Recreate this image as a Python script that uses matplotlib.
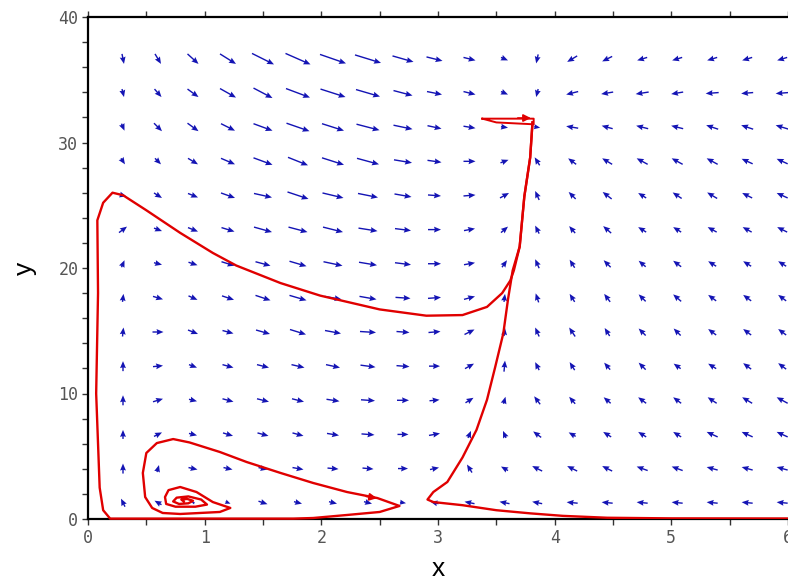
import numpy as np
import matplotlib
matplotlib.use("Agg")
import matplotlib.pyplot as plt

# grid of direction-field arrows
grid_x = [0.3, 0.6, 0.9, 1.2, 1.5, 1.8, 2.1, 2.4, 2.7, 2.97, 3.27, 3.57, 3.85, 4.15,
          4.45, 4.75, 5.05, 5.35, 5.65, 5.95]
grid_y = [36.66, 33.94, 31.22, 28.5, 25.78, 23.06, 20.34, 17.62, 14.9, 12.18,
          9.46, 6.74, 4.02, 1.3]

# arrow components in pixels (right / up), one row per grid_y
arrow_u = [
  [2, 6, 11, 16, 22, 25, 26, 26, 21, 16, 12, 7, -2, -10, -10, -10, -10, -10, -10, -10],
  [2, 7, 11, 16, 19, 24, 25, 24, 19, 15, 12, 7, -2, -12, -12, -13, -12, -13, -12, -13],
  [3, 8, 11, 14, 19, 23, 22, 23, 19, 14, 12, 7, 6, -12, -11, -12, -12, -12, -12, -13],
  [4, 6, 10, 14, 19, 20, 22, 22, 18, 14, 12, 8, -5, -8, -10, -11, -11, -11, -11, -11],
  [7, 8, 10, 14, 18, 21, 21, 20, 17, 13, 12, 9, -4, -7, -9, -8, -9, -10, -10, -11],
  [8, 8, 10, 13, 18, 19, 20, 19, 16, 13, 11, 7, -4, -6, -8, -8, -8, -9, -9, -10],
  [3, 8, 9, 13, 15, 17, 19, 18, 16, 13, 11, 5, -4, -5, -7, -7, -8, -8, -8, -8],
  [1, 10, 9, 12, 15, 17, 17, 17, 15, 13, 11, 1, -3, -5, -6, -7, -8, -8, -8, -8],
  [1, 11, 10, 11, 14, 16, 16, 16, 13, 12, 10, 1, -4, -6, -5, -7, -7, -8, -8, -8],
  [0, 10, 8, 11, 12, 13, 14, 15, 13, 11, 9, 1, -4, -5, -6, -7, -7, -8, -8, -8],
  [0, 10, 8, 11, 12, 12, 13, 14, 12, 10, 8, 2, -6, -6, -7, -8, -8, -9, -10, -11],
  [0, 8, 8, 10, 11, 11, 12, 13, 11, 11, 3, -3, -8, -7, -8, -8, -8, -11, -11, -11],
  [0, 2, 9, 9, 9, 11, 11, 11, 10, 9, -5, -7, -10, -10, -10, -11, -11, -11, -11, -11],
  [-4, -7, -3, 5, 9, 8, 8, 8, 6, -8, -10, -10, -10, -11, -11, -11, -11, -11, -11, -11],
]
arrow_v = [
  [-10, -10, -10, -10, -11, -11, -9, -8, -6, -4, -3, -3, -9, -6, -5, -3, -3, -3, -3, -3],
  [-8, -8, -8, -9, -10, -9, -8, -7, -5, -3, -3, -3, -8, -3, -2, -2, -2, -1, -1, -1],
  [-7, -8, -8, -7, -7, -8, -7, -6, -4, -3, -2, -1, -1, 2, 3, 3, 3, 4, 4, 4],
  [-6, -6, -6, -6, -7, -8, -7, -6, -3, -2, 0, 3, 8, 6, 6, 6, 6, 6, 5, 5],
  [-2, -5, -4, -5, -4, -7, -5, -4, -3, -1, 1, 5, 9, 7, 7, 5, 6, 6, 5, 5],
  [6, -3, -4, -4, -5, -5, -5, -3, -2, 0, 2, 6, 8, 7, 7, 5, 5, 5, 5, 5],
  [7, -2, -3, -4, -4, -5, -4, -3, -2, 0, 2, 7, 9, 8, 7, 6, 6, 5, 5, 5],
  [8, -3, -4, -4, -5, -5, -3, -3, -1, 1, 3, 8, 9, 8, 8, 7, 7, 6, 6, 6],
  [9, 0, -4, -3, -4, -5, -3, -1, -1, 1, 5, 8, 9, 9, 8, 7, 7, 6, 6, 6],
  [10, 1, -3, -3, -3, -3, -3, -2, -1, 0, 5, 11, 8, 8, 7, 7, 5, 5, 6, 6],
  [10, 3, -2, -3, -3, -3, -2, -1, 0, 1, 5, 7, 8, 7, 6, 6, 6, 6, 6, 6],
  [9, 4, -2, -3, -3, -3, -2, -1, 0, 2, 7, 7, 6, 4, 5, 5, 5, 5, 5, 5],
  [10, 7, -2, -2, -2, -2, -1, -1, 0, 2, 8, 4, 5, 5, 5, 4, 4, 3, 3, 3],
  [8, 4, 1, -2, -3, -2, -2, -2, -1, 2, 2, 2, 2, 1, 1, 1, 1, 1, 1, 1],
]

# trajectory spiralling out of the focus and ending at the top node
traj1_x = [0.82, 0.80, 0.85, 0.90, 0.86, 0.78, 0.73, 0.76, 0.86, 0.97, 1.02, 0.92, 0.75, 0.67,
           0.66, 0.69, 0.79, 0.93, 1.07, 1.22, 1.13, 0.96, 0.79, 0.64, 0.55, 0.49, 0.47, 0.50,
           0.59, 0.73, 0.87, 1.13, 1.36, 1.65, 1.93, 2.22, 2.48, 2.67, 2.50, 2.22, 1.93, 1.76,
           0.19, 0.13, 0.10, 0.07, 0.086, 0.08, 0.13, 0.21, 0.30, 0.50, 0.79, 1.07, 1.27,
           1.65, 1.99, 2.50, 2.90, 3.21, 3.42, 3.55, 3.62, 3.65, 3.70, 3.74, 3.79, 3.81]
traj1_y = [1.40, 1.55, 1.60, 1.45, 1.25, 1.20, 1.40, 1.70, 1.80, 1.55, 1.15, 0.98, 0.98, 1.20,
           1.75, 2.30, 2.55, 2.15, 1.35, 0.88, 0.56, 0.48, 0.40, 0.48, 0.88, 1.75, 3.67, 5.26,
           6.05, 6.37, 6.10, 5.34, 4.54, 3.67, 2.87, 2.15, 1.67, 1.04, 0.56, 0.32, 0.08, 0.03,
           0.03, 0.70, 2.50, 10.0, 18.0, 23.8, 25.2, 26.0, 25.8, 24.6, 22.8, 21.2, 20.2,
           18.8, 17.8, 16.7, 16.2, 16.25, 16.9, 18.0, 19.0, 19.8, 21.7, 25.7, 28.8, 31.6]

# trajectory coming in from the right along the x axis
traj2_x = [6.0, 5.0, 4.45, 4.07, 3.79, 3.50, 3.21, 2.96, 2.91, 2.96, 3.08, 3.21, 3.33, 3.42,
           3.49, 3.56, 3.60, 3.64, 3.70, 3.74, 3.79, 3.81]
traj2_y = [0.04, 0.05, 0.10, 0.25, 0.45, 0.70, 1.10, 1.35, 1.55, 2.15, 2.95, 4.9, 7.1, 9.5,
           12.1, 14.8, 17.5, 19.8, 21.7, 25.7, 28.8, 31.6]

# short trajectory near the top node
traj3_x = [3.38, 3.82, 3.82, 3.50, 3.38]
traj3_y = [31.9, 31.9, 31.45, 31.6, 31.9]

# arrow heads on the trajectories: (from, to)
heads = [((2.36, 1.84), (2.50, 1.62)), ((3.66, 31.95), (3.82, 31.95))]

red = '#e00000'
blue = '#1414b4'

fig = plt.figure(figsize=(7.88, 5.83), dpi=100)
ax = fig.add_axes([88 / 788, 1 - 519 / 583, 1 - 88 / 788, (519 - 17) / 583])

gx, gy = np.meshgrid(grid_x, grid_y)
ax.quiver(gx, gy, np.array(arrow_u), np.array(arrow_v), color=blue,
          angles='uv', scale_units='dots', scale=1, pivot='middle',
          units='dots', width=1.4, headwidth=4.2, headlength=5, headaxislength=4.5,
          minlength=0.5, zorder=2)

ax.plot(traj1_x, traj1_y, color=red, lw=1.7, zorder=3, clip_on=False)
ax.plot(traj2_x, traj2_y, color=red, lw=1.7, zorder=3)
ax.plot(traj3_x, traj3_y, color=red, lw=1.4, zorder=3)
for (x0, y0), (x1, y1) in heads:
  ax.annotate('', xy=(x1, y1), xytext=(x0, y0),
              arrowprops=dict(arrowstyle='-|>', color=red, lw=1.2, mutation_scale=11))

ax.set_xlim(0, 6)
ax.set_ylim(0, 40)
ax.set_xticks([0, 1, 2, 3, 4, 5, 6])
ax.set_xticks(np.arange(0, 6.01, 0.5), minor=True)
ax.set_yticks([0, 10, 20, 30, 40])
ax.set_yticks(np.arange(0, 40.1, 2), minor=True)
ax.tick_params(which='both', direction='out', length=4, width=1, color='#333333',
               top=True, right=False, labelsize=12, labelcolor='#555555', pad=3)
for lab in ax.get_xticklabels() + ax.get_yticklabels():
  lab.set_family('DejaVu Sans Mono')

ax.spines['right'].set_visible(False)
for s in ['left', 'bottom', 'top']:
  ax.spines[s].set_linewidth(1.6)

fig.text(438 / 788, 1 - 569 / 583, 'x', fontsize=19, ha='center', va='center',
         family='Liberation Sans')
fig.text(25 / 788, 1 - 268 / 583, 'y', fontsize=19, ha='center', va='center',
         rotation=90, family='Liberation Sans')

fig.savefig('out.png', dpi=100)
